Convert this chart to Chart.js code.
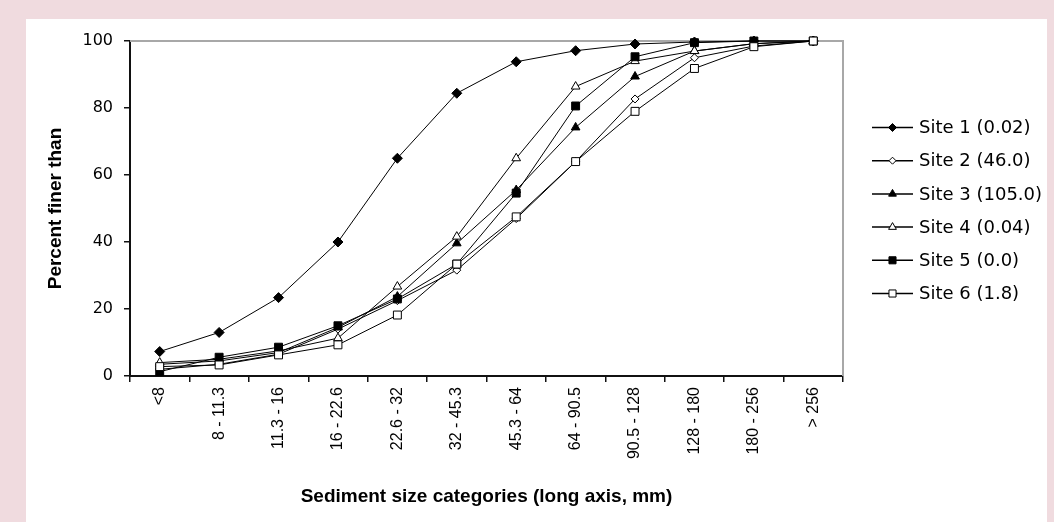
<!DOCTYPE html>
<html>
<head>
<meta charset="utf-8">
<title>Sediment size distribution</title>
<script src="https://cdn.jsdelivr.net/npm/chart.js@4/dist/chart.umd.min.js"></script>
<style>
    html, body { margin: 0; padding: 0; }
    body { width: 1054px; height: 522px; background: #f0dbdf; position: relative; overflow: hidden; }
    #panel { position: absolute; left: 26px; top: 19px; width: 1021px; height: 503px; background: #fff; }
    canvas { display: block; }
</style>
</head>
<body>
<div id="panel"><canvas id="sedimentChart" width="1021" height="503"></canvas></div>
<script>
const sizeCategories = ["<8", "8 - 11.3", "11.3 - 16", "16 - 22.6", "22.6 - 32", "32 - 45.3",
    "45.3 - 64", "64 - 90.5", "90.5 - 128", "128 - 180", "180 - 256", "> 256"];

const siteNames = ["Site 1 (0.02)", "Site 2 (46.0)", "Site 3 (105.0)", "Site 4 (0.04)", "Site 5 (0.0)", "Site 6 (1.8)"];

const site1 = [7.3, 13, 23.4, 40, 65, 84.4, 93.8, 97.1, 99.1, 99.7, 100, 100];
const site2 = [2, 3.5, 6.5, 14, 22.5, 31.6, 47, 64, 82.7, 95, 98.5, 100];
const site3 = [3.5, 4.5, 7, 14.5, 23.7, 39.6, 55.5, 74.2, 89.4, 97, 99.2, 100];
const site4 = [4, 5, 7.5, 11.3, 26.7, 41.6, 65, 86.4, 94, 97, 99.2, 100];
const site5 = [1.3, 5.6, 8.6, 15, 23, 33.4, 54.6, 80.6, 95.3, 99.5, 100, 100];
const site6 = [2.8, 3.3, 6.3, 9.3, 18.2, 33.4, 47.5, 64, 79, 91.8, 98.3, 100];

const yTicks = [0, 20, 40, 60, 80, 100];

// marker look per site: shape, filled?, radius in plot, radius in legend
const markers = [
    { style: "rectRot", fill: "#000", r: 5, lr: 4 },
    { style: "rectRot", fill: "#fff", r: 4, lr: 3.5 },
    { style: "triangle", fill: "#000", r: 5, lr: 4.5 },
    { style: "triangle", fill: "#fff", r: 5, lr: 4.5 },
    { style: "rect", fill: "#000", r: 5.6, lr: 5 },
    { style: "rect", fill: "#fff", r: 5.6, lr: 5 },
];

const series = [site1, site2, site3, site4, site5, site6];

const datasets = series.map((vals, i) => ({
    label: siteNames[i],
    data: vals,
    borderColor: "#000",
    borderWidth: 1,
    tension: 0,
    pointStyle: markers[i].style,
    pointRadius: markers[i].r,
    pointBackgroundColor: markers[i].fill,
    pointBorderColor: "#000",
    pointBorderWidth: 1,
    legendRadius: markers[i].lr,
    clip: false,
    order: 6 - i,
}));

// gray frame on top and right of the plot box
const frame = {
    id: "frame",
    beforeDatasetsDraw(chart) {
        const { ctx, chartArea: a } = chart;
        ctx.save();
        ctx.strokeStyle = "#a8a8a8";
        ctx.lineWidth = 2;
        ctx.beginPath();
        ctx.moveTo(a.left, a.top);
        ctx.lineTo(a.right, a.top);
        ctx.lineTo(a.right, a.bottom);
        ctx.stroke();
        ctx.restore();
    }
};

// legend on the right: line with marker in the middle, then the label
const siteLegend = {
    id: "siteLegend",
    afterDraw(chart) {
        const { ctx, chartArea: a } = chart;
        const sets = chart.data.datasets;
        const gap = 33.2;
        const y0 = (a.top + a.bottom) / 2 - (sets.length - 1) * gap / 2 + 2;
        const x0 = a.right + 29;
        ctx.save();
        ctx.font = '18px "DejaVu Sans"';
        ctx.textBaseline = "middle";
        ctx.textAlign = "left";
        sets.forEach((ds, i) => {
            const y = y0 + i * gap;
            ctx.strokeStyle = "#000";
            ctx.lineWidth = 1.5;
            ctx.beginPath();
            ctx.moveTo(x0, y);
            ctx.lineTo(x0 + 41, y);
            ctx.stroke();
            ctx.lineWidth = 1;
            ctx.fillStyle = ds.pointBackgroundColor;
            Chart.helpers.drawPoint(ctx, {
                pointStyle: ds.pointStyle, radius: ds.legendRadius, rotation: 0, borderWidth: 1
            }, x0 + 20.5, y);
            ctx.fillStyle = "#000";
            ctx.fillText(ds.label, x0 + 47, y + 1);
        });
        ctx.restore();
    }
};

new Chart(document.getElementById("sedimentChart"), {
    type: "line",
    data: { labels: sizeCategories, datasets },
    plugins: [frame, siteLegend],
    options: {
        responsive: false,
        animation: false,
        layout: { padding: { left: 14, top: 22, right: 204, bottom: 10 } },
        plugins: { legend: { display: false }, tooltip: { enabled: false } },
        scales: {
            x: {
                type: "category",
                offset: true,
                afterFit: (s) => { s.height = 136; },
                border: { display: true, color: "#111", width: 2 },
                grid: { offset: true, drawOnChartArea: false, color: "#111", lineWidth: 1.5, tickLength: 6 },
                ticks: {
                    color: "#000",
                    minRotation: 90, maxRotation: 90,
                    autoSkip: false,
                    padding: 5,
                    font: { family: "Liberation Sans", size: 16 }
                },
                title: {
                    display: true,
                    text: "Sediment size categories (long axis, mm)",
                    color: "#000",
                    font: { family: "Liberation Sans", size: 19, weight: "bold" },
                    padding: { top: 4, bottom: 4 }
                }
            },
            y: {
                min: 0, max: 100,
                afterFit: (s) => { s.width = 90; },
                afterBuildTicks: (s) => { s.ticks = yTicks.map(v => ({ value: v })); },
                border: { display: true, color: "#111", width: 2 },
                grid: { drawOnChartArea: false, color: "#111", lineWidth: 1.5, tickLength: 6 },
                ticks: {
                    color: "#000",
                    padding: 11,
                    font: { family: "DejaVu Sans", size: 16 }
                },
                title: {
                    display: true,
                    text: "Percent finer than",
                    color: "#000",
                    font: { family: "Liberation Sans", size: 19, weight: "bold" },
                    padding: { top: 4, bottom: 4 }
                }
            }
        }
    }
});
</script>
</body>
</html>
